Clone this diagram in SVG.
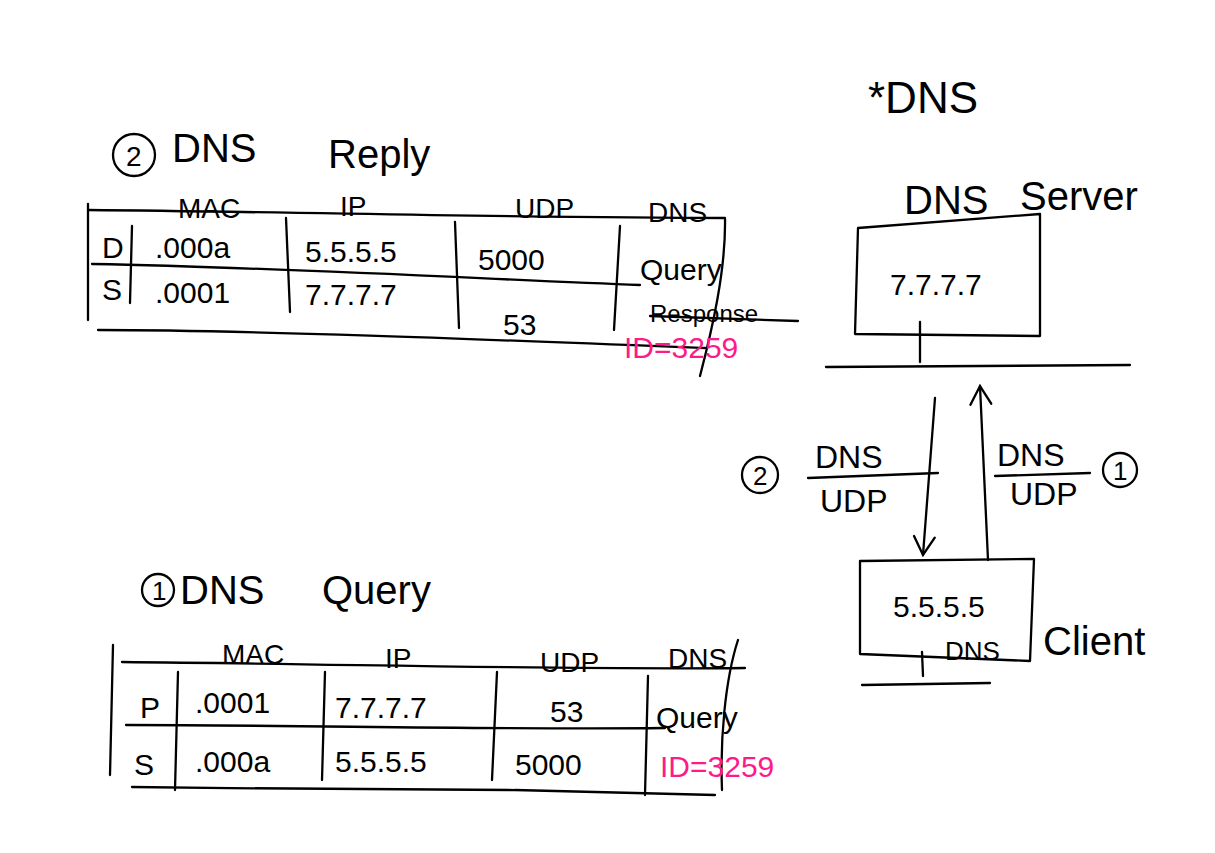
<svg xmlns="http://www.w3.org/2000/svg" width="1215" height="853" viewBox="0 0 1215 853">
<defs>
<style>
.ln{stroke:#000;stroke-width:2.3;fill:none;stroke-linecap:round;stroke-linejoin:round}
.t{font-family:"Liberation Sans","DejaVu Sans",sans-serif;fill:#000}
.ttl{font-size:40px}
.hd{font-size:28px}
.cl{font-size:30px}
.pk{fill:#ff1a8c;font-size:30px}
</style>
<marker id="ah" viewBox="0 0 20 20" refX="18" refY="10" markerWidth="26" markerHeight="26" markerUnits="userSpaceOnUse" orient="auto">
<path d="M4 2 L18 10 L4 18" fill="none" stroke="#000" stroke-width="1.8" stroke-linecap="round"/>
</marker>
</defs>
<rect width="1215" height="853" fill="#fff"/>

<g id="reply-table">
<circle class="ln" cx="134" cy="155" r="21"/>
<text class="t" x="126" y="166" font-size="28">2</text>
<text class="t ttl" x="172" y="162">DNS</text>
<text class="t ttl" x="328" y="168">Reply</text>
<text class="t hd" x="178" y="218">MAC</text>
<text class="t hd" x="340" y="216">IP</text>
<text class="t hd" x="515" y="218">UDP</text>
<text class="t hd" x="648" y="222">DNS</text>
<path class="ln" d="M88 204 L88 320"/>
<path class="ln" d="M88 210 C300 212 520 218 725 218 C726 270 712 330 700 376"/>
<path class="ln" d="M92 264 C300 268 500 280 640 285"/>
<path class="ln" d="M98 330 C250 330 500 340 705 348"/>
<path class="ln" d="M132 226 L130 303"/>
<path class="ln" d="M286 218 L290 312"/>
<path class="ln" d="M455 222 L459 328"/>
<path class="ln" d="M620 226 L614 330"/>
<text class="t cl" x="102" y="258">D</text>
<text class="t cl" x="155" y="258">.000a</text>
<text class="t cl" x="305" y="262">5.5.5.5</text>
<text class="t cl" x="478" y="270">5000</text>
<text class="t cl" x="640" y="280">Query</text>
<text class="t cl" x="102" y="300">S</text>
<text class="t cl" x="155" y="303">.0001</text>
<text class="t cl" x="305" y="305">7.7.7.7</text>
<text class="t cl" x="503" y="335">53</text>
<text class="t" x="650" y="322" font-size="24">Response</text>
<path class="ln" d="M650 316 L798 321"/>
<text class="t pk" x="624" y="358">ID=3259</text>
</g>

<g id="query-table">
<circle class="ln" cx="158" cy="590" r="16"/>
<text class="t" x="152" y="600" font-size="26">1</text>
<text class="t ttl" x="180" y="604">DNS</text>
<text class="t ttl" x="322" y="604">Query</text>
<text class="t hd" x="222" y="664">MAC</text>
<text class="t hd" x="385" y="668">IP</text>
<text class="t hd" x="540" y="672">UDP</text>
<text class="t hd" x="668" y="668">DNS</text>
<path class="ln" d="M113 645 L110 775"/>
<path class="ln" d="M122 662 C350 664 550 670 745 668"/>
<path class="ln" d="M126 725 C300 725 500 730 665 728"/>
<path class="ln" d="M132 787 C300 789 520 791 515 790 L715 795"/>
<path class="ln" d="M178 672 L175 790"/>
<path class="ln" d="M325 672 L322 780"/>
<path class="ln" d="M497 672 L492 780"/>
<path class="ln" d="M648 676 L645 795"/>
<path class="ln" d="M738 640 C725 680 720 740 722 790"/>
<text class="t cl" x="140" y="718">P</text>
<text class="t cl" x="195" y="713">.0001</text>
<text class="t cl" x="335" y="718">7.7.7.7</text>
<text class="t cl" x="550" y="722">53</text>
<text class="t cl" x="656" y="728">Query</text>
<text class="t cl" x="134" y="775">S</text>
<text class="t cl" x="195" y="772">.000a</text>
<text class="t cl" x="335" y="772">5.5.5.5</text>
<text class="t cl" x="515" y="775">5000</text>
<text class="t pk" x="660" y="777">ID=3259</text>
</g>

<g id="dns-title">
<text class="t" x="868" y="113" font-size="44">*DNS</text>
</g>

<g id="dns-server">
<text class="t ttl" x="904" y="214">DNS</text>
<text class="t ttl" x="1020" y="210">Server</text>
<path class="ln" d="M858 228 L1040 214 L1040 336 L855 334 Z"/>
<text class="t cl" x="890" y="295">7.7.7.7</text>
<path class="ln" d="M920 322 L920 362"/>
<path class="ln" d="M826 367 L1130 365"/>
</g>

<g id="dns-client">
<path class="ln" d="M860 561 L1034 559 L1030 661 L860 654 Z"/>
<text class="t cl" x="893" y="617">5.5.5.5</text>
<text class="t" x="945" y="660" font-size="26">DNS</text>
<text class="t ttl" x="1043" y="655">Client</text>
<path class="ln" d="M922 652 L923 676"/>
<path class="ln" d="M862 685 L990 683"/>
</g>

<g id="connectors">
<path class="ln" d="M935 398 L923 555" marker-end="url(#ah)"/>
<path class="ln" d="M988 560 L980 386" marker-end="url(#ah)"/>
<circle class="ln" cx="760" cy="475" r="18"/>
<text class="t" x="753" y="485" font-size="26">2</text>
<path class="ln" d="M808 478 L938 473"/>
<text class="t" x="815" y="468" font-size="32">DNS</text>
<text class="t" x="820" y="512" font-size="32">UDP</text>
<path class="ln" d="M995 476 L1090 473"/>
<text class="t" x="997" y="466" font-size="32">DNS</text>
<text class="t" x="1010" y="505" font-size="32">UDP</text>
<circle class="ln" cx="1120" cy="470" r="17"/>
<text class="t" x="1113" y="480" font-size="26">1</text>
</g>
</svg>
